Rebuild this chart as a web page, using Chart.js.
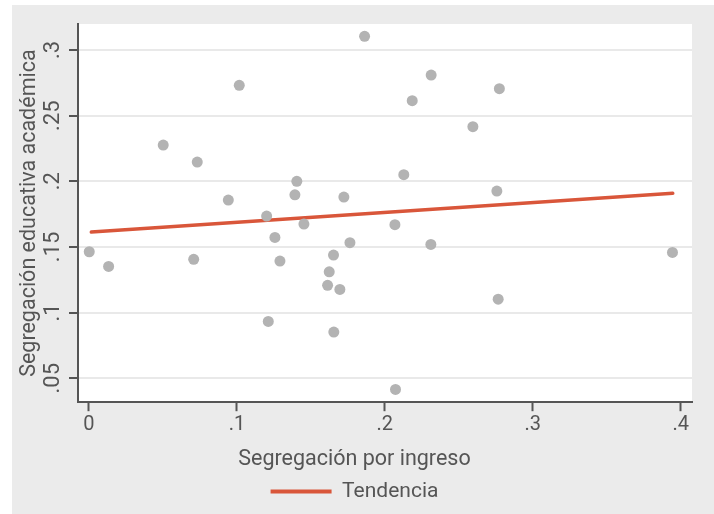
<!DOCTYPE html>
<html>
<head>
<meta charset="utf-8">
<script src="https://cdn.jsdelivr.net/npm/chart.js@4"></script>
<style>
  body { margin: 0; background: #ffffff; }
  #wrap { position: absolute; left: 12px; top: 5px; width: 702px; height: 509px; background: #ebebeb; }
</style>
</head>
<body>
<div id="wrap"><canvas id="scatterChart"></canvas></div>
<script>
// Segregación por ingreso (x) vs segregación educativa académica (y)
const ingreso = [0.0002, 0.0133, 0.0502, 0.0708, 0.0732, 0.0942, 0.1016, 0.1201, 0.1212, 0.1257, 0.1291,
  0.1392, 0.1405, 0.1453, 0.1613, 0.1624, 0.1653, 0.1655, 0.1696, 0.1723, 0.1764, 0.1863,
  0.2068, 0.2072, 0.2128, 0.2185, 0.2311, 0.2313, 0.2595, 0.2757, 0.2766, 0.2774, 0.3944];
const academica = [0.1463, 0.1351, 0.2276, 0.1405, 0.2146, 0.1857, 0.2731, 0.1735, 0.0932, 0.1572, 0.1392,
  0.1897, 0.2000, 0.1674, 0.1207, 0.1310, 0.1438, 0.0851, 0.1176, 0.1880, 0.1532, 0.3104,
  0.1669, 0.0414, 0.2050, 0.2614, 0.1519, 0.2809, 0.2416, 0.1925, 0.1102, 0.2705, 0.1458];

// fitted trend line end points
const trendX = [0.0016, 0.3946];
const trendY = [0.1613, 0.1908];

const xTickValues = [0, 0.1, 0.2, 0.3, 0.4];
const xTickLabels = ['0', '.1', '.2', '.3', '.4'];
const yTickValues = [0.05, 0.1, 0.15, 0.2, 0.25, 0.3];
const yTickLabels = ['.05', '.1', '.15', '.2', '.25', '.3'];

const trendColor = '#d9563a';
const textColor = '#555555';

Chart.defaults.font.family = 'Roboto';
Chart.defaults.color = textColor;

// white plot region on the grey page
const plotBackground = {
  id: 'plotBackground',
  beforeDraw(chart) {
    const { ctx, chartArea: a } = chart;
    ctx.save();
    ctx.fillStyle = '#ffffff';
    ctx.fillRect(a.left, a.top, a.right - a.left, a.bottom - a.top);
    ctx.restore();
  }
};

const ctx = document.getElementById('scatterChart').getContext('2d');

new Chart(ctx, {
  type: 'scatter',
  data: {
    datasets: [{
      label: 'Datos',
      data: ingreso.map((x, i) => ({ x, y: academica[i] })),
      backgroundColor: '#b3b3b3',
      borderWidth: 0,
      pointRadius: 5.5,
      pointHoverRadius: 5.5
    }, {
      type: 'line',
      label: 'Tendencia',
      data: trendX.map((x, i) => ({ x, y: trendY[i] })),
      borderColor: trendColor,
      backgroundColor: trendColor,
      borderWidth: 3.5,
      pointRadius: 0,
      borderCapStyle: 'round'
    }]
  },
  options: {
    responsive: true,
    maintainAspectRatio: false,
    animation: false,
    layout: { padding: { top: 19, right: 22, left: 5, bottom: 2 } },
    plugins: {
      tooltip: { enabled: false },
      title: {
        display: true,
        text: 'Segregación por ingreso',
        position: 'bottom',
        weight: 500,
        color: textColor,
        font: { size: 21.5, weight: 'normal' },
        padding: { top: 5, bottom: 0 }
      },
      legend: {
        position: 'bottom',
        labels: {
          boxWidth: 61,
          boxHeight: 4,
          padding: 8,
          color: textColor,
          font: { size: 21 },
          generateLabels: () => [{
            text: 'Tendencia',
            fillStyle: trendColor,
            strokeStyle: trendColor,
            lineWidth: 0,
            fontColor: textColor,
            datasetIndex: 1
          }]
        }
      }
    },
    scales: {
      x: {
        type: 'linear',
        min: -0.0074,
        max: 0.4076,
        afterBuildTicks: scale => { scale.ticks = xTickValues.map(v => ({ value: v })); },
        afterFit: scale => { scale.height = 40; },
        ticks: {
          padding: 2,
          color: textColor,
          font: { size: 20 },
          callback: (v, i) => xTickLabels[i]
        },
        grid: { drawOnChartArea: false, tickColor: '#555555', tickLength: 9, tickWidth: 2 },
        border: { color: '#555555', width: 2 }
      },
      y: {
        type: 'linear',
        min: 0.0317,
        max: 0.3198,
        afterBuildTicks: scale => { scale.ticks = yTickValues.map(v => ({ value: v })); },
        afterFit: scale => { scale.width = 61; },
        title: {
          display: true,
          text: 'Segregación educativa académica',
          color: textColor,
          font: { size: 21.5 },
          padding: { top: 0, bottom: 0 }
        },
        ticks: {
          minRotation: 90,
          maxRotation: 90,
          crossAlign: 'center',
          padding: 0,
          color: textColor,
          font: { size: 22 },
          callback: (v, i) => yTickLabels[i]
        },
        grid: { color: '#e9e9e9', lineWidth: 2, tickColor: '#555555', tickLength: 9, tickWidth: 2 },
        border: { color: '#555555', width: 2 }
      }
    }
  },
  plugins: [plotBackground]
});
</script>
</body>
</html>
